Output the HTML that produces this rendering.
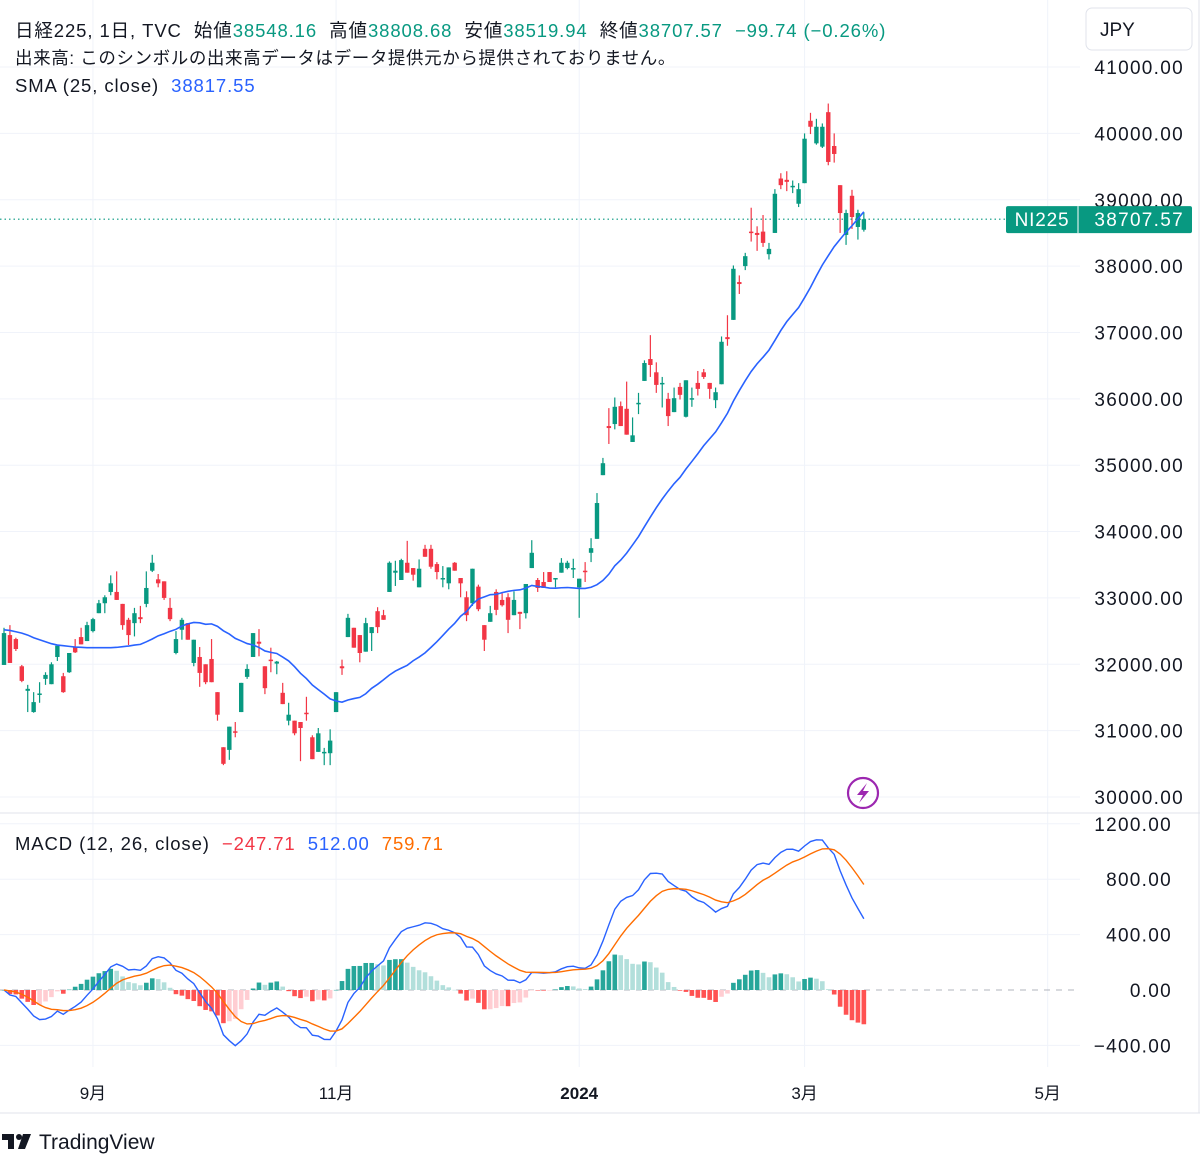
<!DOCTYPE html>
<html><head><meta charset="utf-8"><style>
html,body{margin:0;padding:0;background:#fff;}
body{width:1200px;height:1154px;overflow:hidden;font-family:"Liberation Sans","Noto Sans CJK JP",sans-serif;}
svg text{font-family:"Liberation Sans","Noto Sans CJK JP",sans-serif;white-space:pre;}
.hd text{letter-spacing:0.9px;}
</style></head><body>
<svg id="chart" width="1200" height="1154" viewBox="0 0 1200 1154" xmlns="http://www.w3.org/2000/svg">
<g id="grid"></g>
<g id="candles"></g>
<g id="macdg"></g>
<g id="axes"></g>
<g class="hd" font-size="18.5" fill="#131722">
<text x="15" y="37" xml:space="preserve"><tspan>日経225, 1日, TVC  始値</tspan><tspan fill="#089981">38548.16</tspan><tspan>  高値</tspan><tspan fill="#089981">38808.68</tspan><tspan>  安値</tspan><tspan fill="#089981">38519.94</tspan><tspan>  終値</tspan><tspan fill="#089981">38707.57  −99.74 (−0.26%)</tspan></text>
<text x="15" y="64" font-size="17.5" style="letter-spacing:0.6px">出来高: このシンボルの出来高データはデータ提供元から提供されておりません。</text>
<text x="15" y="92" xml:space="preserve">SMA (25, close)  <tspan fill="#2962ff">38817.55</tspan></text>
<text x="15" y="850" xml:space="preserve">MACD (12, 26, close)  <tspan fill="#f23645">−247.71</tspan>  <tspan fill="#2962ff">512.00</tspan>  <tspan fill="#ff6d00">759.71</tspan></text>
</g>
<g>
<rect x="1086" y="8" width="106" height="42" rx="6" fill="#fff" stroke="#e0e3eb"/>
<text x="1100" y="36" font-size="19" fill="#131722">JPY</text>
</g>
<g>
<circle cx="863" cy="793" r="15" fill="none" stroke="#9c27b0" stroke-width="2.2"/>
<path d="M867 783 L857 795 L863 795 L859 803 L869 791 L863 791 Z" fill="#9c27b0"/>
</g>
<g>
<path d="M2 1134 H14 V1149 H8 V1140 H2 Z" fill="#131722"/>
<circle cx="19" cy="1137" r="3" fill="#131722"/>
<path d="M23 1134 H31 L25 1149 H18 Z" fill="#131722"/>
<text x="39" y="1149" font-size="21" fill="#131722">TradingView</text>
</g>
</svg>
<script>
const opens=[31990,32440,32380,31970,31600,31280,31540,31780,31700,32110,31820,31880,32260,32410,32350,32500,32770,32920,33090,33090,32910,32670,32620,32710,32910,33410,33280,33250,32850,32170,32520,32620,32020,32110,32000,32080,31580,30750,30710,30990,31280,31810,32110,32340,31970,32070,32010,31570,31150,31150,31130,31270,30900,30680,30660,30660,31280,31970,32410,32550,32440,32190,32470,32800,32740,33090,33380,33270,33530,33450,33160,33740,33740,33510,33280,33220,33530,33300,33010,32920,33170,32590,32640,33090,32970,33010,32740,32790,32770,33450,33270,33240,33390,33280,33380,33450,33440,33160,33410,33680,33890,34850,35590,35620,35890,35850,35350,35920,36270,36600,36400,36220,36000,35800,36180,35730,36000,36240,36400,36240,35980,36220,36930,37190,37760,38000,38520,38500,38520,38180,38500,39320,39300,39190,38940,39250,40190,39850,39800,40320,39810,39220,38470,39060,38590,38548];
const highs=[32550,32590,32400,31990,31690,31580,31730,31880,32030,32280,31870,32170,32380,32550,32640,32700,32970,33040,33340,33400,32910,32700,32850,32880,33400,33650,33360,33250,33000,32500,32700,32620,32370,32260,32000,32380,31580,30750,31060,31130,31720,32000,32470,32530,31970,32250,32050,31720,31420,31150,31130,31510,30930,31040,30740,31020,31580,32070,32760,32550,32440,32700,32560,32860,32820,33550,33560,33590,33860,33450,33580,33800,33800,33540,33480,33460,33540,33300,33100,33440,33200,32590,32880,33130,33070,33070,33100,32790,33210,33870,33300,33390,33390,33300,33600,33560,33590,33290,33540,33900,34580,35110,35860,36020,35960,36260,35720,36090,36580,36960,36550,36330,36090,36170,36240,36280,36170,36420,36450,36240,36170,36940,37260,38010,37860,38200,38880,38600,38770,38350,39160,39400,39430,39290,39250,40000,40310,40220,40150,40450,40000,39220,38850,39150,38850,38809];
const lows=[31990,32020,32200,31730,31280,31270,31420,31690,31700,32050,31570,31870,32170,32300,32350,32480,32770,32770,33040,32970,32520,32290,32420,32620,32860,33390,33160,32970,32650,32150,32370,32370,31970,31660,31700,31730,31150,30480,30560,30900,31280,31780,32110,32120,31550,31880,31850,31400,31080,30930,30540,31150,30570,30680,30480,30480,31280,31840,32410,32250,32030,32190,32200,32470,32670,33090,33180,33270,33380,33260,33160,33620,33440,33280,33160,33130,33410,33010,32650,32880,32800,32200,32640,32740,32870,32470,32740,32530,32690,33450,33090,33150,33240,33160,33380,33430,33300,32700,33240,33540,33890,34850,35320,35540,35590,35460,35350,35770,36270,36330,36090,35870,35590,35800,35990,35720,35880,36050,36300,36000,35860,36220,36800,37190,37580,37940,38370,38230,38290,38100,38500,39160,39130,39100,38890,39250,39990,39830,39780,39520,39560,38500,38320,38560,38400,38520];
const closes=[32470,32020,32230,31750,31630,31430,31560,31840,32000,32280,31580,32170,32180,32300,32590,32680,32920,33010,33220,32970,32590,32440,32770,32680,33150,33530,33220,33000,32680,32380,32670,32370,32370,31870,31730,31730,31240,30500,31060,30970,31720,31930,32470,32310,31640,32050,32040,31400,31240,30960,31040,31250,30570,30960,30680,30850,31580,31940,32700,32250,32170,32620,32560,32560,32670,33530,33410,33570,33380,33350,33440,33620,33470,33390,33300,33460,33410,33220,32740,33440,32830,32370,32770,32820,32890,32670,32970,32760,33210,33680,33150,33150,33240,33300,33530,33530,33450,33290,33390,33750,34430,35030,35560,35880,35590,35460,35450,35940,36540,36510,36210,36240,35740,36010,36060,36280,36010,36150,36330,36150,36100,36860,36900,37960,37730,38150,38500,38470,38350,38260,39090,39220,39270,39210,39160,39920,40100,40100,40100,39570,39690,38800,38800,38740,38800,38708];
const smaHead=[32520,32510,32490,32470,32440,32400,32370,32340,32310,32290,32280,32270,32260,32255,32250,32250,32250,32250,32250,32255,32265,32275,32290,32300];
const priceTicks=[41000,40000,39000,38000,37000,36000,35000,34000,33000,32000,31000,30000];
const macdTicks=[1200,800,400,0,-400];
const monthLabels=["9月","11月","2024","3月","5月"];
const monthIndex=[15,56,97,135,176];
const lastPrice=38707.57;

const NS="http://www.w3.org/2000/svg";
function el(tag,attrs,parent){const e=document.createElementNS(NS,tag);for(const k in attrs)e.setAttribute(k,attrs[k]);parent.appendChild(e);return e;}
const X=i=>4+i*5.93;
const Y=p=>797-(p-30000)*0.06636;
const YM=v=>990-v*0.1385;
const grid=document.getElementById('grid'),cg=document.getElementById('candles'),mg=document.getElementById('macdg'),ax=document.getElementById('axes');
const AX={'font-size':19,fill:'#131722','letter-spacing':'1.3'};

priceTicks.forEach(p=>{const l=el('line',{x1:0,x2:1080,y1:Y(p),y2:Y(p),stroke:'#f0f3fa','stroke-width':1},grid);


const t=el('text',Object.assign({x:1184,y:Y(p)+7,'text-anchor':'end'},AX),ax);t.textContent=p.toFixed(2);

});
macdTicks.forEach(v=>{if(v!==0){const l=el('line',{x1:0,x2:1080,y1:YM(v),y2:YM(v),stroke:'#f0f3fa'},grid);

}
const t=el('text',Object.assign({x:1172,y:YM(v)+7,'text-anchor':'end'},AX),ax);t.textContent=(v<0?'−'+Math.abs(v).toFixed(2):v.toFixed(2));

});
monthLabels.forEach((m,k)=>{const x=X(monthIndex[k]);
const l=el('line',{x1:x,x2:x,y1:0,y2:1067,stroke:'#f0f3fa'},grid);


const t=el('text',{x:x,y:1099,'text-anchor':'middle','font-size':17,fill:'#131722','font-weight':m==='2024'?'bold':'normal'},ax);t.textContent=m;

});
[['pane-separator',0,813,1200,813],['time-axis-border',0,1113,1200,1113],['chart-right-border',1199,0,1199,1113]].forEach(a=>{const l=el('line',{x1:a[1],y1:a[2],x2:a[3],y2:a[4],stroke:'#e0e3eb'},ax);

});
const zl=el('line',{x1:0,x2:1080,y1:YM(0),y2:YM(0),stroke:'#b2b5be','stroke-dasharray':'6 6'},mg);



closes.forEach((c,i)=>{const o=opens[i],up=c>=o,col=up?'#089981':'#f23645',x=X(i);
const w=el('line',{x1:x,x2:x,y1:Y(highs[i]),y2:Y(lows[i]),stroke:col,'stroke-width':1.2},cg);


const top=Y(Math.max(o,c)),bh=Math.max(1.5,Math.abs(Y(o)-Y(c)));
const b=el('rect',{x:x-2.2,y:top,width:4.4,height:bh,fill:col},cg);

});

const sma=closes.map((c,i)=>{if(i<24)return smaHead[i];let s=0;for(let k=i-24;k<=i;k++)s+=closes[k];return s/25;});
const sp=el('polyline',{points:sma.map((v,i)=>X(i)+','+Y(v)).join(' '),fill:'none',stroke:'#2962ff','stroke-width':1.6},cg);



const ly=Y(lastPrice);
const dl=el('line',{x1:0,x2:1006,y1:ly,y2:ly,stroke:'#089981','stroke-dasharray':'1.5 3','stroke-width':1.2},ax);


const tg=el('g',{},ax);


el('rect',{x:1006,y:ly-13,width:186,height:27,rx:2,fill:'#089981'},tg);
el('line',{x1:1078,x2:1078,y1:ly-13,y2:ly+14,stroke:'#fff'},tg);
const t1=el('text',{x:1042,y:ly+7,'text-anchor':'middle','font-size':19,fill:'#fff','letter-spacing':'0.8'},tg);t1.textContent='NI225';
const t2=el('text',{x:1184,y:ly+7,'text-anchor':'end','font-size':19,fill:'#fff','letter-spacing':'1.3'},tg);t2.textContent=lastPrice.toFixed(2);

function ema(arr,n){const a=2/(n+1);let e=arr[0];return arr.map(v=>(e=e+a*(v-e)));}
const e12=ema(closes,12),e26=ema(closes,26);
const macd=closes.map((_,i)=>e12[i]-e26[i]);
const sig=(()=>{const a=2/10;let e=macd[0];return macd.map(v=>(e=e+a*(v-e)));})();
const hist=macd.map((v,i)=>v-sig[i]);
hist.forEach((h,i)=>{const prev=i>0?hist[i-1]:h;let col;
if(h>=0)col=h>=prev?'#26a69a':'#b2dfdb';else col=h<prev?'#ff5252':'#ffcdd2';
const y0=YM(0),y1=YM(h);
const r=el('rect',{x:X(i)-2.3,y:Math.min(y0,y1),width:4.6,height:Math.max(0.5,Math.abs(y1-y0)),fill:col},mg);

});
const ml=el('polyline',{points:macd.map((v,i)=>X(i)+','+YM(v)).join(' '),fill:'none',stroke:'#2962ff','stroke-width':1.4},mg);


const sl=el('polyline',{points:sig.map((v,i)=>X(i)+','+YM(v)).join(' '),fill:'none',stroke:'#ff6d00','stroke-width':1.4},mg);


</script>
</body></html>
